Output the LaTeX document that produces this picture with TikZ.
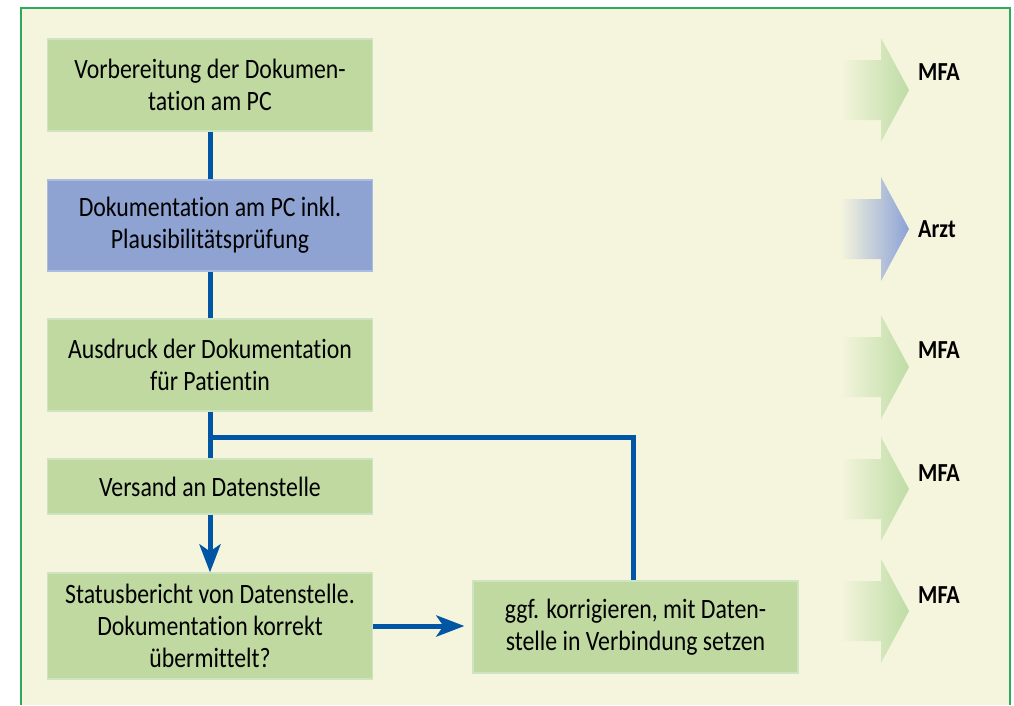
\documentclass[tikz,border=0pt]{standalone}
\usepackage{fontspec}
\setmainfont{Carlito}[FakeStretch=0.85,Ligatures=NoCommon]
\usetikzlibrary{arrows.meta,calc}
\definecolor{bg}{RGB}{245,245,221}
\definecolor{boxgreen}{RGB}{191,217,161}
\definecolor{boxgreenedge}{RGB}{206,228,192}
\definecolor{boxblue}{RGB}{143,163,210}
\definecolor{boxblueedge}{RGB}{170,188,226}
\definecolor{lineblue}{RGB}{0,85,165}
\definecolor{framegreen}{RGB}{46,170,94}
\definecolor{arrgreen}{RGB}{190,220,165}
\definecolor{arrblue}{RGB}{140,162,214}
\tikzset{
  box/.style={draw=boxgreenedge, line width=1.2pt, fill=boxgreen, minimum width=325pt,
    inner sep=0pt, align=center, font=\fontsize{28}{32}\selectfont, text=black},
  bluebox/.style={box, draw=boxblueedge, fill=boxblue},
  conn/.style={draw=lineblue, line width=5pt},
  arr/.style={conn, -{Stealth[length=28pt,width=21pt,inset=7pt]}},
  role/.style={anchor=base west, inner sep=0pt, font=\fontsize{26}{28}\selectfont\bfseries, text=black}
}
\begin{document}
\begin{tikzpicture}[x=1pt,y=-1pt]
\useasboundingbox (0,0) rectangle (1014,705);
\fill[white] (0,0) rectangle (1014,705);
\fill[bg] (21,8) rectangle (1010,705);
\draw[framegreen, line width=1.2pt] (21,705) -- (21,8) -- (1010,8) -- (1010,705);

% side arrows
\foreach \ty/\col in {90/arrgreen, 229/arrblue, 367/arrgreen, 489/arrgreen, 611/arrgreen}{
  \shade[left color=bg, right color=\col]
    (840,\ty-30) -- (881,\ty-30) -- (881,\ty-52) -- (909,\ty) -- (881,\ty+52)
    -- (881,\ty+30) -- (840,\ty+30) -- cycle;
}
\node[role] (r1) at (918,80) {MFA};
\node[role] (r2) at (918,237) {Arzt};
\node[role] (r3) at (918,358) {MFA};
\node[role] (r4) at (918,481) {MFA};
\node[role] (r5) at (918,603) {MFA};

% boxes
\node[box, minimum height=92pt] (b1) at (210,85) {Vorbereitung der Dokumen-\\tation am PC};
\node[bluebox, minimum height=91pt] (b2) at (210,225.5) {Dokumentation am PC inkl.\\Plausibilitätsprüfung};
\node[box, minimum height=92pt] (b3) at (210,365) {Ausdruck der Dokumentation\\für Patientin};
\node[box, minimum height=55pt] (b4) at (210,486.5) {Versand an Datenstelle};
\node[box, minimum height=106pt] (b5) at (210,626) {Statusbericht von Datenstelle.\\Dokumentation korrekt\\übermittelt?};
\node[box, minimum height=92pt] (b6) at (635.5,627) {ggf. korrigieren, mit Daten-\\stelle in Verbindung setzen};

% connectors
\coordinate (j) at (210,437);
\coordinate (k) at (633,0);
\draw[conn] (b1.south) -- (b2.north);
\draw[conn] (b2.south) -- (b3.north);
\draw[conn] (b3.south) -- (b4.north);
\draw[arr] (b4.south) -- (b5.north);
\draw[arr, shorten >=8pt] (b5.east) -- (b5.east -| b6.west);
\draw[conn] (b6.north -| k) |- ($(j)+(-2.5,0)$);
\end{tikzpicture}
\end{document}
